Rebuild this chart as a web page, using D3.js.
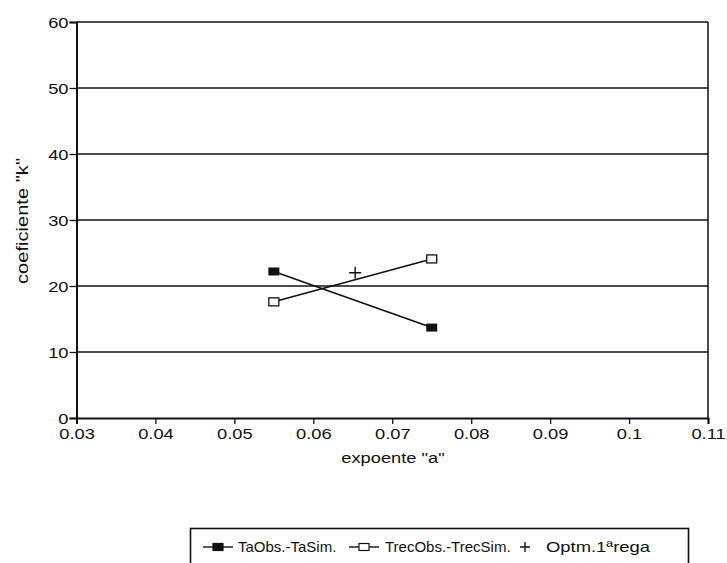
<!DOCTYPE html>
<html>
<head>
<meta charset="utf-8">
<script src="https://cdn.jsdelivr.net/npm/d3@7"></script>
<style>
  body { margin: 0; background: #fff; }
  text { font-family: "Liberation Sans", Arial, sans-serif; fill: #111; }
</style>
</head>
<body>
<script>
var width = 727,
    height = 563;

// data
var xTicks = [0.03, 0.04, 0.05, 0.06, 0.07, 0.08, 0.09, 0.1, 0.11];
var yTicks = [0, 10, 20, 30, 40, 50, 60];
var expoente = [0.055, 0.075];
var taObs = [22.2, 13.7];
var trecObs = [17.6, 24.1];
var optm = [{a: 0.0653, k: 22}];
var seriesNames = ["TaObs.-TaSim.", "TrecObs.-TrecSim.", "Optm.1ªrega"];

var margin = {left: 76.5, right: 19, top: 22, bottom: 145};
var stretch = 1.22; // the scanned lettering is wide

var x = d3.scaleLinear()
    .domain([0.03, 0.11])
    .range([margin.left, width - margin.right]);

var y = d3.scaleLinear()
    .domain([0, 60])
    .range([height - margin.bottom, margin.top]);

var svg = d3.select("body").append("svg")
    .attr("width", width)
    .attr("height", height);

// horizontal grid
svg.append("g")
  .selectAll("line")
  .data(yTicks.filter(function(d) { return d > 0; }))
  .enter()
  .append("line")
    .attr("x1", x(0.03))
    .attr("x2", x(0.11))
    .attr("y1", function(d) { return y(d); })
    .attr("y2", function(d) { return y(d); })
    .attr("stroke", "#111")
    .attr("stroke-width", 1.3);

// right border
svg.append("line")
    .attr("x1", x(0.11)).attr("x2", x(0.11))
    .attr("y1", y(0)).attr("y2", y(60))
    .attr("stroke", "#111")
    .attr("stroke-width", 1.5);

var xAxis = svg.append("g")
    .attr("transform", "translate(0," + y(0) + ")")
    .call(d3.axisBottom(x)
        .tickValues(xTicks)
        .tickSize(6)
        .tickFormat(function(d) { return d3.format("")(+d.toFixed(2)); }));

var yAxis = svg.append("g")
    .attr("transform", "translate(" + x(0.03) + ",0)")
    .call(d3.axisLeft(y)
        .tickValues(yTicks)
        .tickSize(7));

[xAxis, yAxis].forEach(function(ax) {
  ax.select(".domain").attr("stroke", "#111").attr("stroke-width", 2);
  ax.selectAll(".tick line").attr("stroke", "#111").attr("stroke-width", 1.3);
  ax.selectAll(".tick text")
    .style("font-family", "Liberation Sans, Arial, sans-serif")
    .style("font-size", "15px")
    .attr("fill", "#111");
});
xAxis.selectAll(".tick text")
    .attr("y", 10)
    .attr("dy", "0.75em")
    .attr("transform", "scale(" + stretch + ",1)");
yAxis.selectAll(".tick text")
    .attr("x", -8 / stretch)
    .attr("dy", "0.34em")
    .attr("transform", "scale(" + stretch + ",1)");

// axis titles
svg.append("text")
    .attr("transform", "translate(393,463) scale(" + stretch + ",1)")
    .attr("text-anchor", "middle")
    .style("font-size", "15px")
    .text("expoente \"a\"");

svg.append("text")
    .attr("transform", "translate(28,221) rotate(-90) scale(" + stretch + ",1)")
    .attr("text-anchor", "middle")
    .style("font-size", "16.5px")
    .text("coeficiente \"k\"");

var line = d3.line()
    .x(function(d) { return x(d[0]); })
    .y(function(d) { return y(d[1]); });

var taData = d3.zip(expoente, taObs);
var trecData = d3.zip(expoente, trecObs);

svg.append("path")
    .datum(taData)
    .attr("d", line)
    .attr("fill", "none")
    .attr("stroke", "#111")
    .attr("stroke-width", 1.6);

svg.append("path")
    .datum(trecData)
    .attr("d", line)
    .attr("fill", "none")
    .attr("stroke", "#111")
    .attr("stroke-width", 1.6);

svg.selectAll(".ta")
  .data(taData)
  .enter()
  .append("rect")
    .attr("class", "ta")
    .attr("x", function(d) { return x(d[0]) - 5.5; })
    .attr("y", function(d) { return y(d[1]) - 4; })
    .attr("width", 11)
    .attr("height", 8)
    .attr("fill", "#111");

svg.selectAll(".trec")
  .data(trecData)
  .enter()
  .append("rect")
    .attr("class", "trec")
    .attr("x", function(d) { return x(d[0]) - 5; })
    .attr("y", function(d) { return y(d[1]) - 4; })
    .attr("width", 10)
    .attr("height", 8)
    .attr("fill", "#fff")
    .attr("stroke", "#111")
    .attr("stroke-width", 1.3);

svg.selectAll(".optm")
  .data(optm)
  .enter()
  .append("path")
    .attr("class", "optm")
    .attr("d", function(d) {
      var cx = x(d.a), cy = y(d.k);
      return "M" + (cx - 6) + "," + cy + "H" + (cx + 6) +
             "M" + cx + "," + (cy - 6) + "V" + (cy + 6);
    })
    .attr("stroke", "#111")
    .attr("stroke-width", 1.4);

// legend
var legend = svg.append("g");
legend.append("rect")
    .attr("x", 190.5)
    .attr("y", 528.5)
    .attr("width", 498)
    .attr("height", 60)
    .attr("fill", "none")
    .attr("stroke", "#111")
    .attr("stroke-width", 1.6);

var ly = 547;
var items = [
  {sym: "filled", x0: 203, tx: 238, len: null},
  {sym: "open", x0: 349, tx: 385, len: null},
  {sym: "plus", x0: 519, tx: 546, len: 104}
];
items.forEach(function(it, i) {
  var g = legend.append("g");
  if (it.sym !== "plus") {
    g.append("line")
      .attr("x1", it.x0).attr("x2", it.x0 + 30)
      .attr("y1", ly).attr("y2", ly)
      .attr("stroke", "#111").attr("stroke-width", 1.4);
    g.append("rect")
      .attr("x", it.x0 + 10).attr("y", ly - 3.5)
      .attr("width", 10).attr("height", 7)
      .attr("fill", it.sym === "filled" ? "#111" : "#fff")
      .attr("stroke", "#111").attr("stroke-width", 1.2);
  } else {
    var cx = it.x0 + 6;
    g.append("path")
      .attr("d", "M" + (cx - 5) + "," + ly + "H" + (cx + 5) +
                 "M" + cx + "," + (ly - 5) + "V" + (ly + 5))
      .attr("stroke", "#111").attr("stroke-width", 1.4);
  }
  var t = g.append("text")
    .attr("x", it.tx)
    .attr("y", ly + 5)
    .style("font-size", "15px")
    .text(seriesNames[i]);
  if (it.len) t.attr("textLength", it.len).attr("lengthAdjust", "spacingAndGlyphs");
});
</script>
</body>
</html>
